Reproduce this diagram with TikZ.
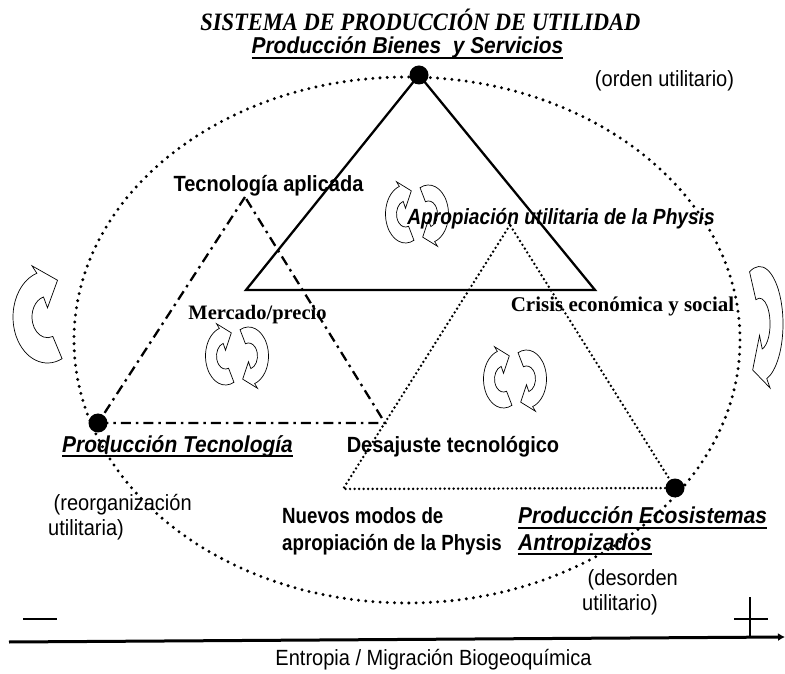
\documentclass[tikz,border=0pt]{standalone}
\usepackage{fontspec}
\setmainfont{Liberation Sans}
\newfontfamily\timesfont{Liberation Serif}
\usetikzlibrary{arrows.meta}

\newcommand{\ulbox}[1]{\setbox0\hbox{#1}\rlap{\rule[-5pt]{\wd0}{1.8pt}}\box0}

\tikzset{
  vertexdot/.style={circle, fill=black, inner sep=0pt, minimum size=19pt},
  bigdots/.style={line width=3.3pt, line cap=round, dash pattern=on 0pt off 7.2pt},
  smalldots/.style={line width=2.7pt, line cap=round, dash pattern=on 0pt off 4.5pt},
  dashdotline/.style={line width=2.3pt, dash pattern=on 10pt off 5pt on 2.5pt off 5pt},
  solidline/.style={line width=2.3pt},
  cycline/.style={line width=0.7pt, fill=white},
  sanslbl/.style={font=\fontsize{22}{27}\selectfont\bfseries, xscale=0.91, inner sep=0pt},
  italbl/.style={font=\fontsize{23}{27}\selectfont\bfseries\itshape, xscale=0.91, inner sep=0pt},
  seriflbl/.style={font=\timesfont\fontsize{21}{26}\selectfont\bfseries, inner sep=0pt},
  plainlbl/.style={font=\fontsize{22}{25}\selectfont, xscale=0.91, inner sep=0pt},
  halfcycle/.pic={
    \draw[cycline] (295:1) arc[start angle=295, end angle=108, radius=1]
      -- (112:1.2) -- (70:0.85) -- (0,0.2) -- (105:0.45)
      arc[start angle=105, end angle=290, radius=0.45] -- cycle;
  },
  cyclepair/.pic={
    \pic[xscale=20, yscale=29] at (-11.5,0) {halfcycle};
    \pic[xscale=20, yscale=29, rotate=180] at (11.5,0) {halfcycle};
  }
}

\begin{document}
\begin{tikzpicture}[x=1pt, y=1pt]
    \useasboundingbox (0,0) rectangle (785,673);
    \fill[white] (0,0) rectangle (785,673);

    \draw[bigdots] (407,333) ellipse[x radius=333, y radius=263];

    \node[vertexdot] (bienes) at (419,598) {};
    \node[vertexdot] (tecno) at (98,250) {};
    \node[vertexdot] (ecosis) at (675,185) {};

    \coordinate (mainL) at (246,383);
    \coordinate (mainR) at (595,383);
    \coordinate (tecTop) at (245,476);
    \coordinate (tecR) at (385,250);
    \coordinate (ecoTop) at (510,448);
    \coordinate (ecoL) at (343,184);

    \draw[solidline] (bienes.center) -- (mainL) -- (mainR) -- cycle;
    \draw[dashdotline] (tecTop) -- (tecno.center) -- (tecR) -- cycle;
    \draw[smalldots] (ecoTop) -- (ecoL) -- (ecosis.center) -- cycle;

    \pic at (417,459) {cyclepair};
    \pic at (237,317) {cyclepair};
    \pic at (515,294) {cyclepair};
    \pic[xscale=34.5, yscale=46] at (47.5,356) {halfcycle};
    \pic[xscale=23.5, yscale=57.5, rotate=180] at (759.5,349) {halfcycle};

    \node[font=\timesfont\fontsize{25}{30}\selectfont\bfseries\itshape, xscale=0.9, anchor=base] (titulo) at (420.5,642) {SISTEMA DE PRODUCCIÓN DE UTILIDAD};
    \node[italbl, anchor=base] (bienesLbl) at (407.5,619) {\ulbox{Producción Bienes~ y Servicios}};
    \node[plainlbl, anchor=base] (orden) at (664.5,586) {(orden utilitario)};

    \node[sanslbl, anchor=base] (aplicada) at (268.5,481) {Tecnología aplicada};
    \node[font=\fontsize{22}{26}\selectfont\bfseries\itshape, xscale=0.87, inner sep=0pt, anchor=base] (apropia) at (561,448) {Apropiación utilitaria de la Physis};
    \node[seriflbl, anchor=base] (crisis) at (622.5,361) {Crisis económica y social};
    \node[seriflbl, font=\timesfont\fontsize{20.5}{26}\selectfont\bfseries, anchor=base] (mercado) at (257.5,353) {Mercado/precio};

    \node[italbl, anchor=base] (tecnoLbl) at (177.5,221) {\ulbox{Producción Tecnología}};
    \node[sanslbl, anchor=base] (desajuste) at (453,221) {Desajuste tecnológico};
    \node[plainlbl, align=left, anchor=base west] (reorg) at (48,138) {\ (reorganización\\utilitaria)};
    \node[sanslbl, xscale=0.935, align=left, anchor=base west] (nuevos) at (282,123) {Nuevos modos de\\apropiación de la Physis};
    \node[italbl, font=\fontsize{23}{26.5}\selectfont\bfseries\itshape, align=left, anchor=base west] (ecosisLbl) at (518,123) {\ulbox{Producción Ecosistemas}\\\ulbox{Antropizados}};
    \node[plainlbl, align=left, anchor=base west] (desorden) at (582,63) {\ (desorden\\utilitario)};

    \coordinate (menosL) at (23,54);
    \coordinate (menosR) at (57,54);
    \coordinate (masL) at (734,54);
    \coordinate (masR) at (768,54);
    \coordinate (masT) at (750,76);
    \coordinate (masB) at (750,37);
    \draw[line width=2.5pt] (menosL) -- (menosR);
    \draw[line width=2pt] (masL) -- (masR);
    \draw[line width=2pt] (masT) -- (masB);

    \coordinate (ejeL) at (9,31);
    \coordinate (ejeR) at (785,36);
    \draw[line width=3pt, -{Latex[length=7pt, width=8pt]}] (ejeL) -- (ejeR);
    \node[plainlbl, anchor=base] (entropia) at (433.5,8) {Entropia / Migración Biogeoquímica};
\end{tikzpicture}
\end{document}
